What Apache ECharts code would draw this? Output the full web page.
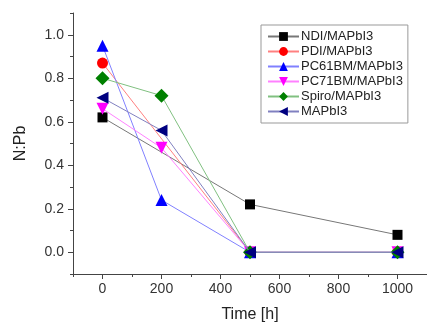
<!DOCTYPE html>
<html><head><meta charset="utf-8">
<script src="https://cdn.jsdelivr.net/npm/echarts@6/dist/echarts.min.js"></script>
<style>html,body{margin:0;padding:0;background:#fff}#c{width:427px;height:328px}</style>
</head><body><div id="c"></div>
<script>
const times = [0, 200, 500, 1000];
const seriesNames = ['NDI/MAPbI3', 'PDI/MAPbI3', 'PC61BM/MAPbI3', 'PC71BM/MAPbI3', 'Spiro/MAPbI3', 'MAPbI3'];
const ndi = [0.62, null, 0.22, 0.08];
const pdi = [0.87, null, 0, 0];
const pc61 = [0.95, 0.24, 0, 0];
const pc71 = [0.66, 0.48, 0, 0];
const spiro = [0.80, 0.72, 0, 0];
const mapbi = [0.71, 0.56, 0, 0];
const xTicks = [0, 200, 400, 600, 800, 1000];
const xMinor = [-100, 100, 300, 500, 700, 900, 1100];
const yTicks = [0, 0.2, 0.4, 0.6, 0.8, 1.0];
const yMinor = [-0.1, 0.1, 0.3, 0.5, 0.7, 0.9, 1.1];

const colors = ['#000000', '#ff0000', '#0000ff', '#ff00ff', '#008000', '#000080'];
const lineColors = ['#777777', '#ff8080', '#8080ff', '#ff80ff', '#80c080', '#8080c0'];
const symbols = ['rect', 'circle', 'triangle', 'triangle', 'diamond', 'triangle'];
const rotates = [0, 0, 0, 180, 0, 90];
const sizes = [10, 11, 12, 12, 14, 12];
const allData = [ndi, pdi, pc61, pc71, spiro, mapbi];

const font = 'Liberation Sans, Arial, sans-serif';
const chart = echarts.init(document.getElementById('c'));
const axisLineStyle = {color: '#444', width: 1};
chart.setOption({
  animation: false,
  grid: {left: 73, right: 0, top: 13, bottom: 53},
  legend: {
    left: 261, top: 25, orient: 'vertical',
    backgroundColor: '#fff', borderColor: '#999', borderWidth: 1,
    padding: [5, 5, 5, 6],
    itemWidth: 31, itemHeight: 11, itemGap: 2,
    textStyle: {fontFamily: font, fontSize: 13, lineHeight: 13, color: '#222', padding: [0, 0, 0, -3]},
    data: seriesNames
  },
  xAxis: [{
    type: 'value', min: -100, max: 1100,
    name: 'Time [h]', nameLocation: 'middle', nameGap: 33,
    nameTextStyle: {fontFamily: font, fontSize: 16, color: '#222'},
    axisLine: {onZero: false, lineStyle: axisLineStyle},
    axisTick: {show: true, length: 5, customValues: xTicks, lineStyle: axisLineStyle},
    axisLabel: {customValues: xTicks, fontFamily: font, fontSize: 14, color: '#333', margin: 8,
      formatter: v => String(v)},
    splitLine: {show: false}
  }, {
    type: 'value', min: -100, max: 1100, position: 'bottom',
    axisLine: {show: false, onZero: false},
    axisTick: {show: true, length: 3, customValues: xMinor, lineStyle: axisLineStyle},
    axisLabel: {show: false}, splitLine: {show: false}
  }],
  yAxis: [{
    type: 'value', min: -0.1, max: 1.1,
    name: 'N:Pb', nameLocation: 'middle', nameGap: 44,
    nameTextStyle: {fontFamily: font, fontSize: 16, color: '#222'},
    axisLine: {show: true, onZero: false, lineStyle: axisLineStyle},
    axisTick: {show: true, length: 5, customValues: yTicks, lineStyle: axisLineStyle},
    axisLabel: {customValues: yTicks, fontFamily: font, fontSize: 14, color: '#333', margin: 9,
      formatter: v => v.toFixed(1)},
    splitLine: {show: false}
  }, {
    type: 'value', min: -0.1, max: 1.1, position: 'left',
    axisLine: {show: false, onZero: false},
    axisTick: {show: true, length: 3, customValues: yMinor, lineStyle: axisLineStyle},
    axisLabel: {show: false}, splitLine: {show: false}
  }],
  series: seriesNames.map((name, i) => ({
    name, type: 'line',
    data: times.map((t, j) => allData[i][j] === null ? null : [t, allData[i][j]]).filter(d => d !== null),
    symbol: symbols[i], symbolRotate: rotates[i], symbolSize: sizes[i],
    showAllSymbol: true,
    itemStyle: {color: colors[i], opacity: 1},
    lineStyle: {color: lineColors[i], width: 1},
    z: 2 + i
  }))
});
</script></body></html>
